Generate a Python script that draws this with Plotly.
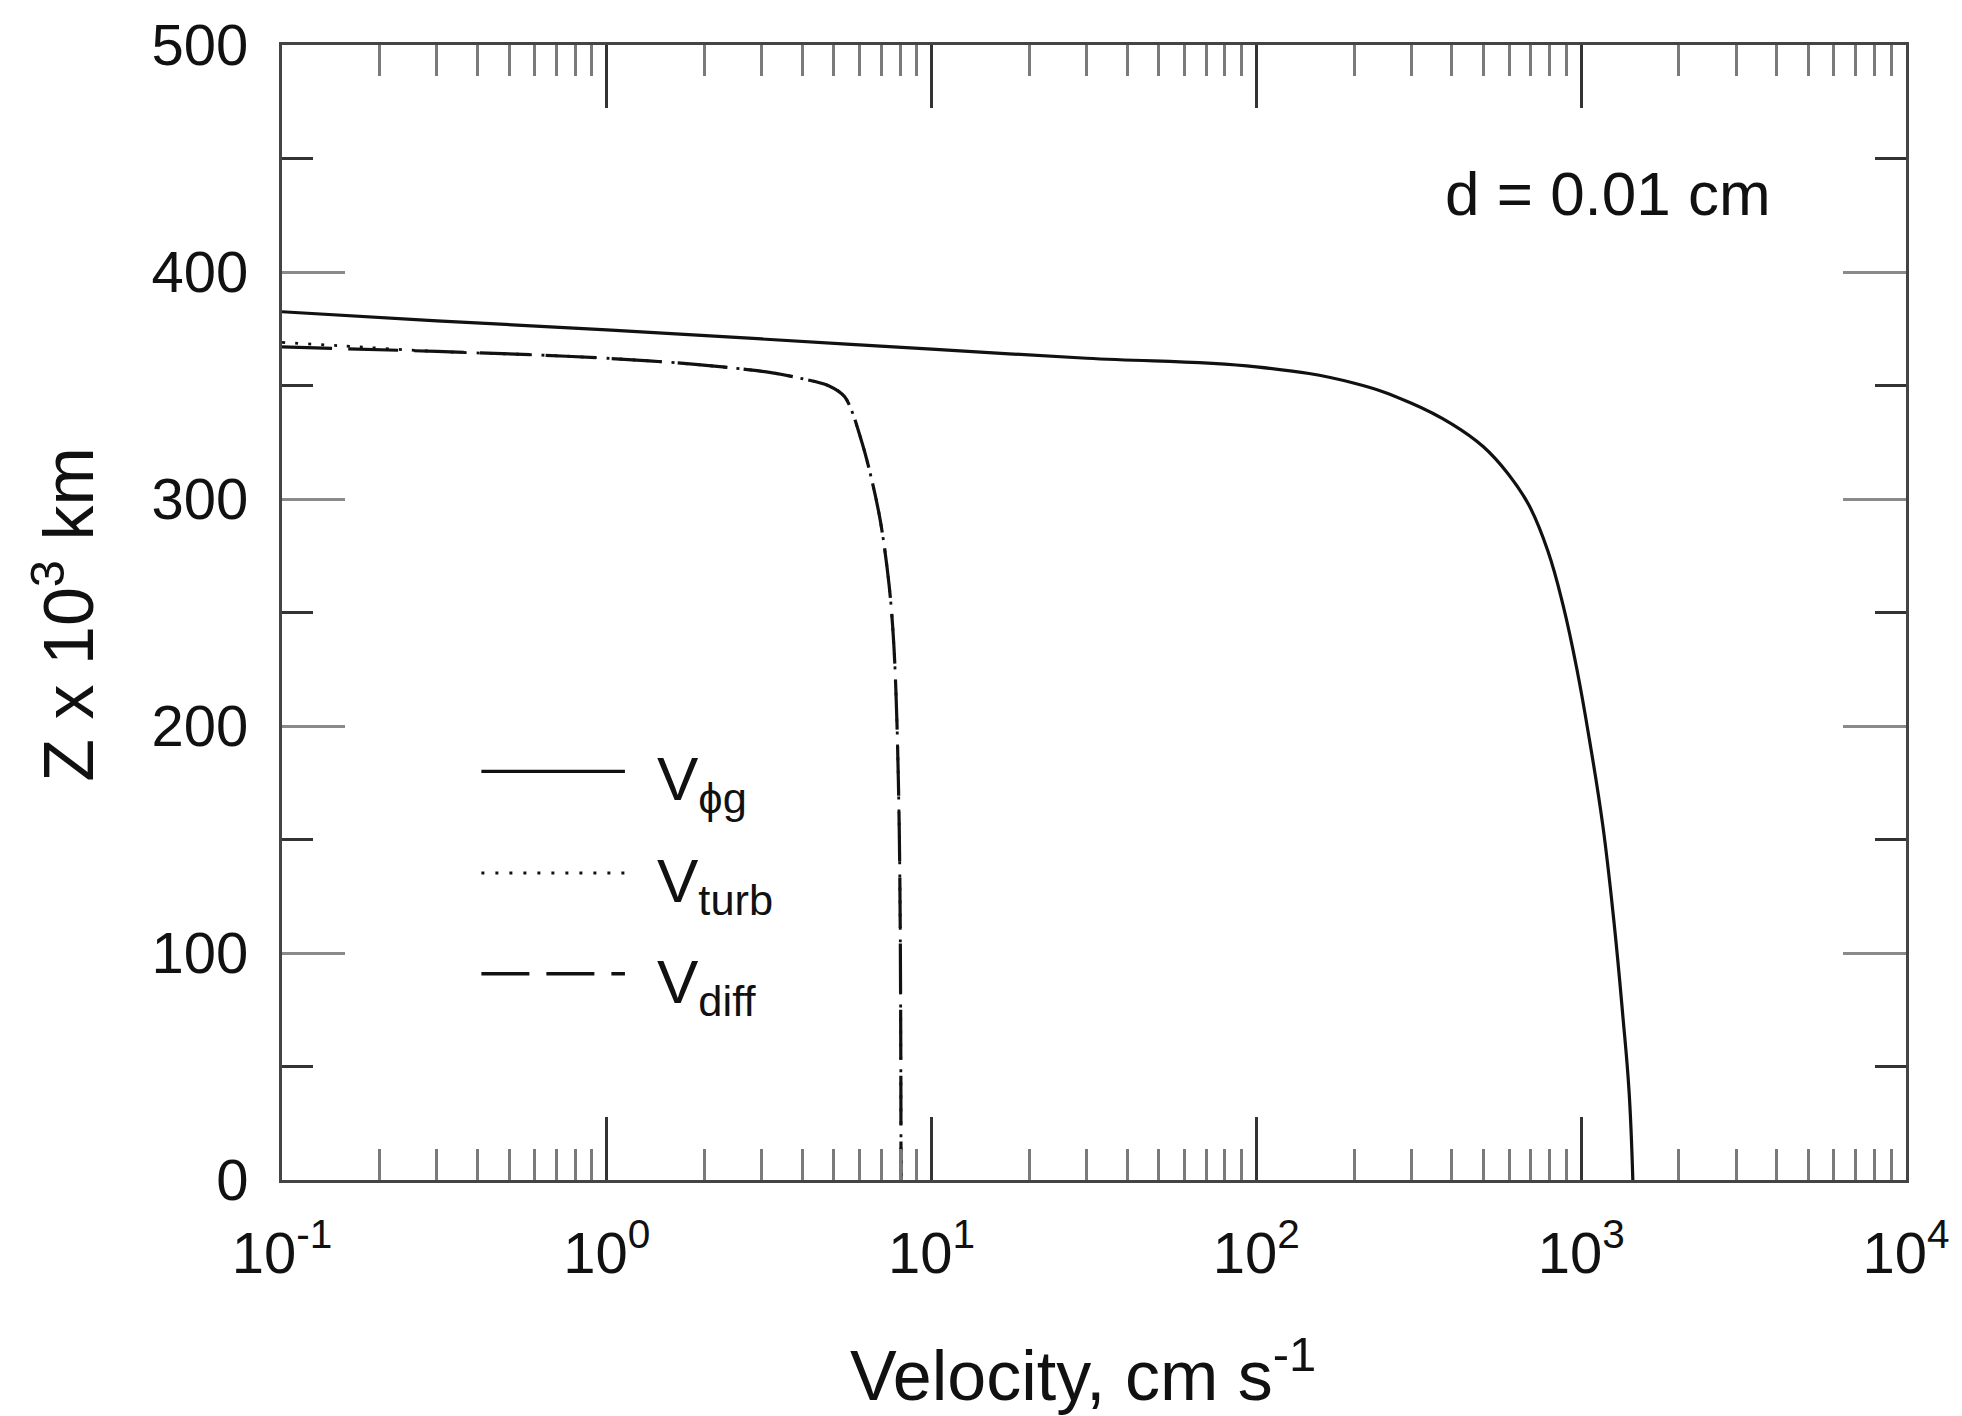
import plotly.graph_objects as go

# ---- data ----
v_phig = [0.1, 0.3, 1, 3, 10, 30, 100, 199, 299, 400, 499, 596, 692, 790, 880, 970, 1060, 1166, 1263, 1344, 1404, 1442]
z_phig = [382.5, 378.5, 374.5, 370.5, 366, 362, 358.2, 351.1, 342.3, 333, 323.1, 311, 297, 277, 253, 225, 194, 156, 113, 72, 39, 0]

v_diff = [0.1, 0.3, 0.6, 1, 1.8, 3.1, 4.0, 4.8, 5.4, 6.1, 6.9, 7.4, 7.65, 7.82, 7.95, 8.01, 8.04, 8.05]
z_diff = [367, 365, 363.5, 362, 359.5, 356, 353, 350, 345, 325, 293, 262, 236, 202, 155, 107, 50, 0]

v_turb = [0.1, 0.15, 0.3, 0.6, 1, 1.8, 3.1, 4.0, 4.8, 5.4, 6.1, 6.9, 7.4, 7.65, 7.82, 7.95, 8.01, 8.04, 8.05]
z_turb = [369, 367.5, 365, 363.5, 362, 359.5, 356, 353, 350, 345, 325, 293, 262, 236, 202, 155, 107, 50, 0]

x_tickvals = [0.1, 1, 10, 100, 1000, 10000]
x_ticktext = ["10<sup>-1</sup>", "10<sup>0</sup>", "10<sup>1</sup>", "10<sup>2</sup>", "10<sup>3</sup>", "10<sup>4</sup>"]
y_tickvals = [0, 100, 200, 300, 400, 500]

FONT = "Liberation Sans, Arial, sans-serif"
INK = "#111111"

fig = go.Figure()
fig.add_trace(go.Scatter(x=v_phig, y=z_phig, mode="lines",
                         line=dict(color=INK, width=3.2, shape="spline", smoothing=1.2), showlegend=False))
fig.add_trace(go.Scatter(x=v_turb, y=z_turb, mode="lines",
                         line=dict(color=INK, width=2.8, dash="3px,10px", shape="spline", smoothing=0.9), showlegend=False))
fig.add_trace(go.Scatter(x=v_diff, y=z_diff, mode="lines",
                         line=dict(color=INK, width=3.2, dash="50px,16px", shape="spline", smoothing=0.9), showlegend=False))

L, R, T, B = 282, 51, 41, 236
W, H = 1962, 1416

def px(X):
    return (X - L) / (W - L - R)

def py(Y):
    return (H - B - Y) / (H - B - T)

# manual legend
leg_items = [
    (770, "solid", "V<sub>ϕg</sub>", 3.2),
    (872, "3px,11px", "V<sub>turb</sub>", 3.0),
    (973, "48px,17px", "V<sub>diff</sub>", 3.4),
]
shapes = []
annotations = []
for Y, dash, label, w in leg_items:
    shapes.append(dict(type="line", xref="paper", yref="paper", x0=px(482), x1=px(626), y0=py(Y), y1=py(Y),
                       line=dict(color=INK, width=w, dash=dash)))
    annotations.append(dict(xref="paper", yref="paper", x=px(656), y=py(Y), xanchor="left", yanchor="middle",
                            yshift=-12, text=label, showarrow=False, font=dict(family=FONT, size=62, color=INK)))

annotations.append(dict(xref="paper", yref="paper", x=px(1612), y=py(190), xanchor="center", yanchor="middle",
                        text="d = 0.01 cm", showarrow=False, font=dict(family=FONT, size=62, color=INK)))
annotations.append(dict(xref="paper", yref="paper", x=px(1085), y=py(1372), xanchor="center", yanchor="middle",
                        text="Velocity, cm s<sup>-1</sup>", showarrow=False, font=dict(family=FONT, size=70, color=INK)))
annotations.append(dict(xref="paper", yref="paper", x=px(63), y=py(612), xanchor="center", yanchor="middle",
                        textangle=-90, text="Z x 10<sup>3</sup> km", showarrow=False,
                        font=dict(family=FONT, size=70, color=INK)))

fig.update_layout(
    width=W, height=H,
    margin=dict(l=L, r=R, t=T, b=B),
    paper_bgcolor="white", plot_bgcolor="white",
    shapes=shapes, annotations=annotations,
    showlegend=False,
)
fig.update_xaxes(
    type="log", range=[-1, 4],
    tickvals=x_tickvals, ticktext=x_ticktext,
    ticks="inside", ticklen=63, tickwidth=2.5, tickcolor="#333333",
    showline=True, linecolor="#444444", linewidth=3, mirror="ticks",
    showgrid=False, zeroline=False,
    tickfont=dict(family=FONT, size=58, color=INK),
    ticklabelstandoff=20,
    minor=dict(ticks="inside", ticklen=31, tickwidth=2.5, tickcolor="#7a7a7a", dtick="D1", showgrid=False),
)
fig.update_yaxes(
    range=[0, 500],
    tickvals=y_tickvals,
    ticks="inside", ticklen=63, tickwidth=2.5, tickcolor="#8a8a8a",
    showline=True, linecolor="#444444", linewidth=3, mirror="ticks",
    showgrid=False, zeroline=False,
    tickfont=dict(family=FONT, size=58, color=INK),
    ticklabelstandoff=19,
    minor=dict(ticks="inside", ticklen=31, tickwidth=2.5, tickcolor="#333333", dtick=50, showgrid=False),
)

fig.write_html("out.html")
